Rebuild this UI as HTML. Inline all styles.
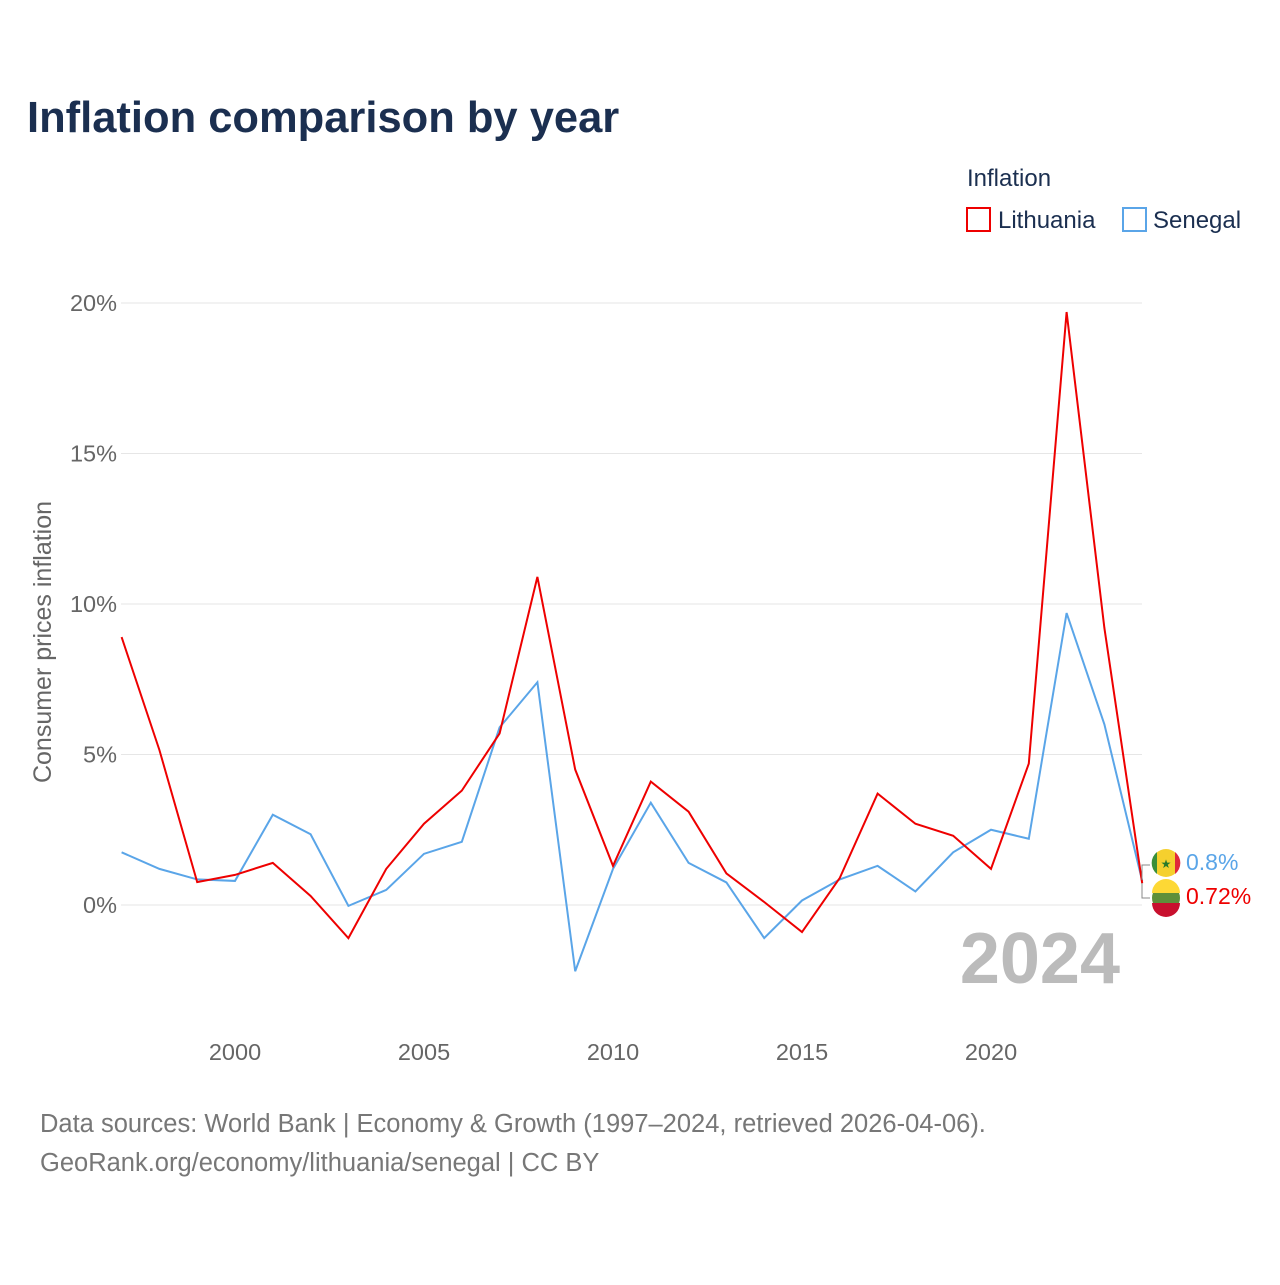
<!DOCTYPE html>
<html><head><meta charset="utf-8"><style>
body{margin:0;background:#fff;font-family:"Liberation Sans",sans-serif;}
</style></head><body>
<svg id="chart" width="1280" height="1280" xmlns="http://www.w3.org/2000/svg">
<text x="27" y="132" font-size="43.5" font-weight="bold" fill="#1b2f50">Inflation comparison by year</text>
<text x="967" y="186" font-size="24" fill="#1b2f50">Inflation</text>
<g><rect x="967" y="208" width="23" height="23" fill="none" stroke="#e00" stroke-width="2"/><text x="998" y="228" font-size="24" fill="#1b2f50">Lithuania</text></g>
<g><rect x="1123" y="208" width="23" height="23" fill="none" stroke="#5aa5e8" stroke-width="2"/><text x="1153" y="228" font-size="24" fill="#1b2f50">Senegal</text></g>
<g id="grid"></g>
<g id="yticks"></g>
<g id="xticks"></g>
<text transform="translate(51,642) rotate(-90)" text-anchor="middle" font-size="25" fill="#666">Consumer prices inflation</text>
<text x="1120" y="983" text-anchor="end" font-size="72" font-weight="bold" fill="#bbb">2024</text>
<g id="series"></g>
<g>
<path d="M1150 865 h-8 v15 M1150 898 h-8 v-15" stroke="#888" fill="none"/>
<circle cx="1166" cy="863" r="14" fill="#f5d02e"/>
<path d="M1157 852 a14 14 0 0 0 0 22z" fill="#3a8f3a"/><path d="M1175 852 a14 14 0 0 1 0 22z" fill="#e0283a"/>
<text x="1166" y="868" font-size="12" text-anchor="middle" fill="#2a7a2a">★</text>
<circle cx="1166" cy="898" r="14" fill="#5e8f3a"/>
<path d="M1152 893 a14 14 0 0 1 28 0z" fill="#fdd835"/><path d="M1152 903 a14 14 0 0 0 28 0z" fill="#c8102e"/>
<text x="1186" y="870" font-size="23" fill="#5aa5e8">0.8%</text>
<text x="1186" y="904" font-size="23" fill="#e00">0.72%</text>
</g>
<text x="40" y="1132" font-size="25.5" fill="#777">Data sources: World Bank | Economy &amp; Growth (1997–2024, retrieved 2026-04-06).</text>
<text x="40" y="1171" font-size="25.5" fill="#777">GeoRank.org/economy/lithuania/senegal | CC BY</text>
</svg>
<script>
const years=[1997,1998,1999,2000,2001,2002,2003,2004,2005,2006,2007,2008,2009,2010,2011,2012,2013,2014,2015,2016,2017,2018,2019,2020,2021,2022,2023,2024];
const lithuania=[8.9,5.15,0.76,1.0,1.4,0.3,-1.1,1.2,2.7,3.8,5.7,10.9,4.5,1.3,4.1,3.1,1.05,0.1,-0.9,0.9,3.7,2.7,2.3,1.2,4.7,19.7,9.2,0.72];
const senegal=[1.75,1.2,0.85,0.8,3.0,2.35,-0.03,0.5,1.7,2.1,5.9,7.4,-2.2,1.2,3.4,1.4,0.75,-1.1,0.15,0.85,1.3,0.45,1.75,2.5,2.2,9.7,6.0,0.8];
const yTicks=[0,5,10,15,20];
const xTicks=[2000,2005,2010,2015,2020];
const NS="http://www.w3.org/2000/svg";
function x(v){return 121.6+(v-1997)*37.8;}
function y(v){return 905-v*30.1;}
const grid=document.getElementById('grid'),yt=document.getElementById('yticks'),xt=document.getElementById('xticks'),ser=document.getElementById('series');
yTicks.forEach(t=>{
 const l=document.createElementNS(NS,'line');
 l.setAttribute('x1',121);l.setAttribute('x2',1142);l.setAttribute('y1',y(t));l.setAttribute('y2',y(t));
 l.setAttribute('stroke','#e6e6e6');
 
 
 grid.appendChild(l);
 const tx=document.createElementNS(NS,'text');
 tx.setAttribute('x',117);tx.setAttribute('y',y(t)+8);tx.setAttribute('text-anchor','end');
 tx.setAttribute('font-size','23.5');tx.setAttribute('fill','#666');tx.textContent=t+'%';
 
 
 yt.appendChild(tx);
});
xTicks.forEach(t=>{
 const tx=document.createElementNS(NS,'text');
 tx.setAttribute('x',x(t));tx.setAttribute('y',1060);tx.setAttribute('text-anchor','middle');
 tx.setAttribute('font-size','23.5');tx.setAttribute('fill','#666');tx.textContent=t;
 
 
 xt.appendChild(tx);
});
function line(vals,color,name){
 const p=document.createElementNS(NS,'polyline');
 p.setAttribute('points',vals.map((v,i)=>x(years[i])+','+y(v)).join(' '));
 p.setAttribute('fill','none');p.setAttribute('stroke',color);p.setAttribute('stroke-width','2');
 
 
 ser.appendChild(p);
}
line(senegal,'#5aa5e8','senegal-line');
line(lithuania,'#e00','lithuania-line');
</script>
</body></html>
